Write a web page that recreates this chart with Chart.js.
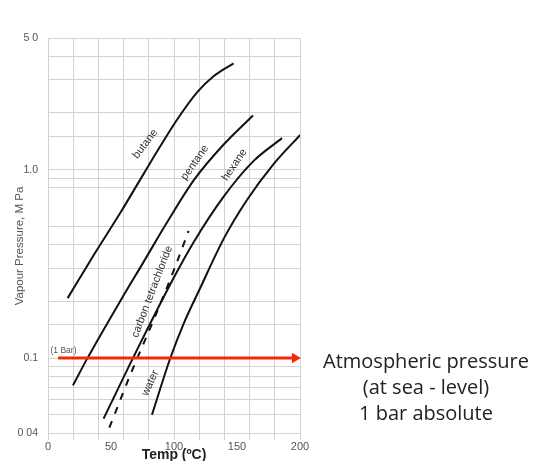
<!DOCTYPE html>
<html>
<head>
<meta charset="utf-8">
<script src="https://cdn.jsdelivr.net/npm/chart.js@4.4.1/dist/chart.umd.min.js"></script>
<style>
html, body { margin: 0; padding: 0; background: #fff; }
#wrap { width: 550px; height: 461px; position: relative; }
</style>
</head>
<body>
<div id="wrap"><canvas id="vpChart"></canvas></div>
<script>
// vapour pressure curves, [temp degC, pressure MPa]
const butane = [[15.6, 0.208], [36.2, 0.351], [57.4, 0.59], [75.9, 0.95], [89.1, 1.33], [102.4, 1.84], [118.3, 2.57], [131.4, 3.13], [147.3, 3.67]];
const pentane = [[19.8, 0.0716], [31, 0.099], [57.4, 0.201], [75.9, 0.324], [94.4, 0.524], [115.6, 0.878], [139.4, 1.36], [162.7, 1.94]];
const hexane = [[44.1, 0.0477], [73.3, 0.12], [99.7, 0.266], [115.6, 0.412], [139.4, 0.719], [163.2, 1.113], [185.7, 1.47]];
const carbonTet = [[48.7, 0.0427], [66.1, 0.0839], [83.8, 0.159], [100.5, 0.3], [111.6, 0.473]];
const water = [[82.5, 0.05], [97.1, 0.1], [107.6, 0.152], [120.9, 0.236], [139.4, 0.429], [157.9, 0.69], [179, 1.07], [200.2, 1.53]];
const atmLine = [[8, 0.1], [196, 0.1]];

// curve labels: text, temp, pressure, angle (deg)
const curveLabels = [
    ['butane', 77.2, 1.37, -53],
    ['pentane', 116.5, 1.09, -55],
    ['hexane', 148, 1.06, -56],
    ['carbon tetrachloride', 82.6, 0.225, -69],
    ['water', 81.2, 0.0736, -65]
];

const xTickLabels = [0, 50, 100, 150, 200];
const yTickLabels = { '0.04': '0 04', '0.1': '0.1', '1': '1.0', '5': '5 0' };
const hiddenYGrid = [0.6, 0.7];
const noteLines = ['Atmospheric pressure', '(at sea - level)', '1 bar absolute'];

function pts(arr) {
    return arr.map(p => ({ x: p[0], y: p[1] }));
}

function curve(label, arr, dashed) {
    return {
        label: label,
        data: pts(arr),
        borderColor: '#111',
        borderWidth: 2,
        borderDash: dashed ? [7, 8] : [],
        pointRadius: 0,
        cubicInterpolationMode: 'monotone',
        fill: false
    };
}

const labelPlugin = {
    id: 'labels',
    afterDatasetsDraw(chart) {
        const ctx = chart.ctx;
        const xs = chart.scales.x, ys = chart.scales.y;
        ctx.save();
        ctx.fillStyle = '#333';
        ctx.font = '11px "Liberation Sans", Arial, sans-serif';
        ctx.textAlign = 'center';
        ctx.textBaseline = 'middle';
        curveLabels.forEach(l => {
            ctx.save();
            ctx.translate(xs.getPixelForValue(l[1]), ys.getPixelForValue(l[2]));
            ctx.rotate(l[3] * Math.PI / 180);
            ctx.fillText(l[0], 0, 0);
            ctx.restore();
        });

        // (1 Bar) tag above the red line
        ctx.font = '8.5px "Liberation Sans", Arial, sans-serif';
        ctx.fillStyle = '#555';
        ctx.textAlign = 'left';
        ctx.textBaseline = 'bottom';
        ctx.fillText('(1 Bar)', xs.getPixelForValue(2), ys.getPixelForValue(0.1) - 3);

        // y axis title
        ctx.save();
        ctx.translate(20, 246);
        ctx.rotate(-Math.PI / 2);
        ctx.font = '11.5px "Liberation Sans", Arial, sans-serif';
        ctx.fillStyle = '#555';
        ctx.textAlign = 'center';
        ctx.textBaseline = 'middle';
        ctx.fillText('Vapour Pressure, M Pa', 0, 0);
        ctx.restore();

        // note on the right
        const area = chart.chartArea;
        const cx = area.right + 126;
        const y0 = ys.getPixelForValue(0.1) + 10;
        ctx.font = '20px "Open Sans", Lato, sans-serif';
        ctx.fillStyle = '#222';
        ctx.textAlign = 'center';
        ctx.textBaseline = 'alphabetic';
        noteLines.forEach((t, i) => ctx.fillText(t, cx, y0 + i * 26));
        ctx.restore();
    }
};

const ctx = document.getElementById('vpChart').getContext('2d');
new Chart(ctx, {
    type: 'line',
    data: {
        datasets: [
            {
                label: '1 bar',
                data: pts(atmLine),
                borderColor: '#f3290b',
                backgroundColor: '#f3290b',
                borderWidth: 3,
                pointStyle: 'triangle',
                pointRotation: [0, 90],
                pointRadius: [0, 6],
                pointBorderWidth: 0,
                clip: false
            },
            curve('butane', butane),
            curve('pentane', pentane),
            curve('hexane', hexane),
            curve('carbon tetrachloride', carbonTet, true),
            curve('water', water)
        ]
    },
    options: {
        responsive: true,
        maintainAspectRatio: false,
        animation: false,
        layout: { padding: { top: 38, right: 250, left: 0, bottom: 0 } },
        plugins: {
            legend: { display: false },
            tooltip: { enabled: false }
        },
        scales: {
            x: {
                type: 'linear',
                min: 0,
                max: 200,
                afterFit: s => { s.height = 28; },
                ticks: {
                    stepSize: 10,
                    autoSkip: false,
                    maxRotation: 0,
                    padding: 0,
                    color: '#555',
                    font: { size: 11, family: '"Liberation Sans", Arial, sans-serif' },
                    callback: v => xTickLabels.includes(v) ? String(v) : ''
                },
                grid: {
                    color: c => (c.tick && c.tick.value % 20 === 0) ? '#d2d2d2' : 'rgba(0,0,0,0)',
                    tickLength: 7
                },
                border: { color: '#d2d2d2' },
                title: {
                    display: true,
                    text: 'Temp (\u00BAC)',
                    color: '#222',
                    font: { size: 14, weight: 'bold', family: '"Liberation Sans", Arial, sans-serif' },
                    padding: { top: 0, bottom: -3 }
                }
            },
            y: {
                type: 'logarithmic',
                min: 0.04,
                max: 5,
                afterFit: s => { s.width = 48; },
                ticks: {
                    autoSkip: false,
                    padding: 10,
                    color: '#555',
                    font: { size: 10.5, family: '"Liberation Sans", Arial, sans-serif' },
                    callback: v => {
                        const k = String(Math.round(v * 100) / 100);
                        return yTickLabels[k] || '';
                    }
                },
                grid: {
                    drawTicks: false,
                    color: c => {
                        const v = Math.round(c.tick.value * 100) / 100;
                        return hiddenYGrid.includes(v) ? 'rgba(0,0,0,0)' : '#d2d2d2';
                    }
                },
                border: { color: '#d2d2d2' }
            }
        }
    },
    plugins: [labelPlugin]
});
</script>
</body>
</html>
